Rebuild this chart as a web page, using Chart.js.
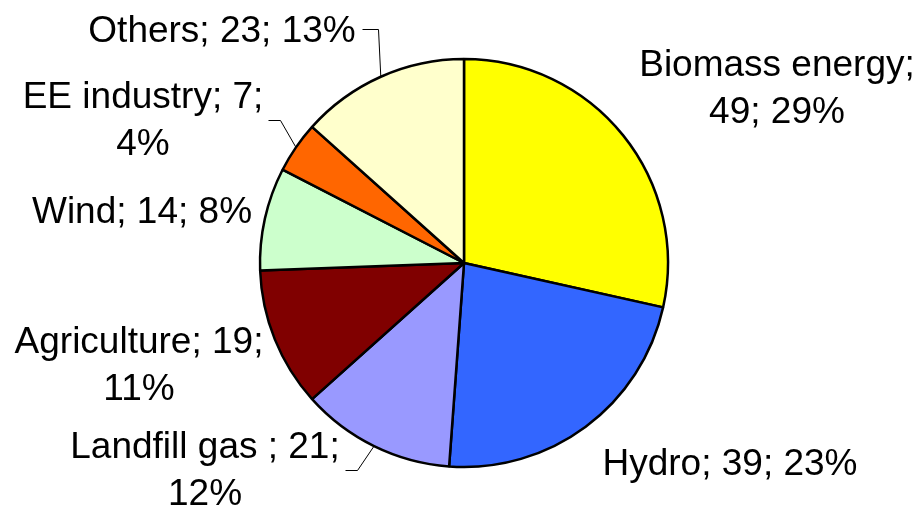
<!DOCTYPE html>
<html>
<head>
<meta charset="utf-8">
<script src="https://cdn.jsdelivr.net/npm/chart.js@4/dist/chart.umd.min.js"></script>
<style>
  html, body { margin: 0; padding: 0; background: #fff; }
  canvas { display: block; }
</style>
</head>
<body>
<canvas id="pieChart" width="922" height="509"></canvas>
<script>
const categories = ['Biomass energy', 'Hydro', 'Landfill gas ', 'Agriculture', 'Wind', 'EE industry', 'Others'];
const values = [49, 39, 21, 19, 14, 7, 23];
const percents = [29, 23, 12, 11, 8, 4, 13];

const colors = ['#FFFF00', '#3366FF', '#9999FF', '#800000', '#CCFFCC', '#FF6600', '#FFFFCC'];

// label placement: center x, first baseline, where to wrap, optional leader elbow/end
const labelLayout = [
    { x: 777, y: 76, wrap: 1 },
    { x: 730, y: 475, wrap: 0 },
    { x: 205, y: 458, wrap: 2, leader: [[357, 470], [345, 470]] },
    { x: 139, y: 353, wrap: 2 },
    { x: 142, y: 223, wrap: 0 },
    { x: 143, y: 108, wrap: 2, leader: [[280, 120], [268, 120]] },
    { x: 222, y: 42, wrap: 0, leader: [[378, 29], [362, 29]] }
];

const pieLabels = {
    id: 'pieLabels',
    afterDatasetsDraw(chart) {
        const ctx = chart.ctx;
        const arcs = chart.getDatasetMeta(0).data;
        ctx.save();
        ctx.font = '37px "Liberation Sans", Arial, sans-serif';
        ctx.fillStyle = '#000';
        ctx.textAlign = 'center';
        ctx.textBaseline = 'alphabetic';
        arcs.forEach((arc, i) => {
            const lay = labelLayout[i];
            const parts = [categories[i], String(values[i]), percents[i] + '%'];
            let lines;
            if (lay.wrap === 0) lines = [parts.join('; ')];
            else lines = [parts.slice(0, lay.wrap).join('; ') + ';', parts.slice(lay.wrap).join('; ')];
            lines.forEach((t, k) => ctx.fillText(t, lay.x, lay.y + k * 47));

            if (lay.leader) {
                const mid = (arc.startAngle + arc.endAngle) / 2;
                const px = arc.x + Math.cos(mid) * arc.outerRadius;
                const py = arc.y + Math.sin(mid) * arc.outerRadius;
                ctx.beginPath();
                ctx.lineWidth = 1;
                ctx.strokeStyle = '#000';
                ctx.moveTo(px, py);
                lay.leader.forEach(p => ctx.lineTo(p[0] + 0.5, p[1] + 0.5));
                ctx.stroke();
            }
        });
        ctx.restore();
    }
};

const ctx = document.getElementById('pieChart').getContext('2d');
new Chart(ctx, {
    type: 'pie',
    data: {
        labels: categories,
        datasets: [{
            data: values,
            backgroundColor: colors,
            borderColor: '#000',
            borderWidth: 2.5,
            hoverOffset: 0,
            radius: 204
        }]
    },
    options: {
        responsive: false,
        animation: false,
        layout: { padding: { left: 260, right: 254, top: 59, bottom: 42 } },
        plugins: {
            legend: { display: false },
            tooltip: { enabled: false }
        }
    },
    plugins: [pieLabels]
});
</script>
</body>
</html>
